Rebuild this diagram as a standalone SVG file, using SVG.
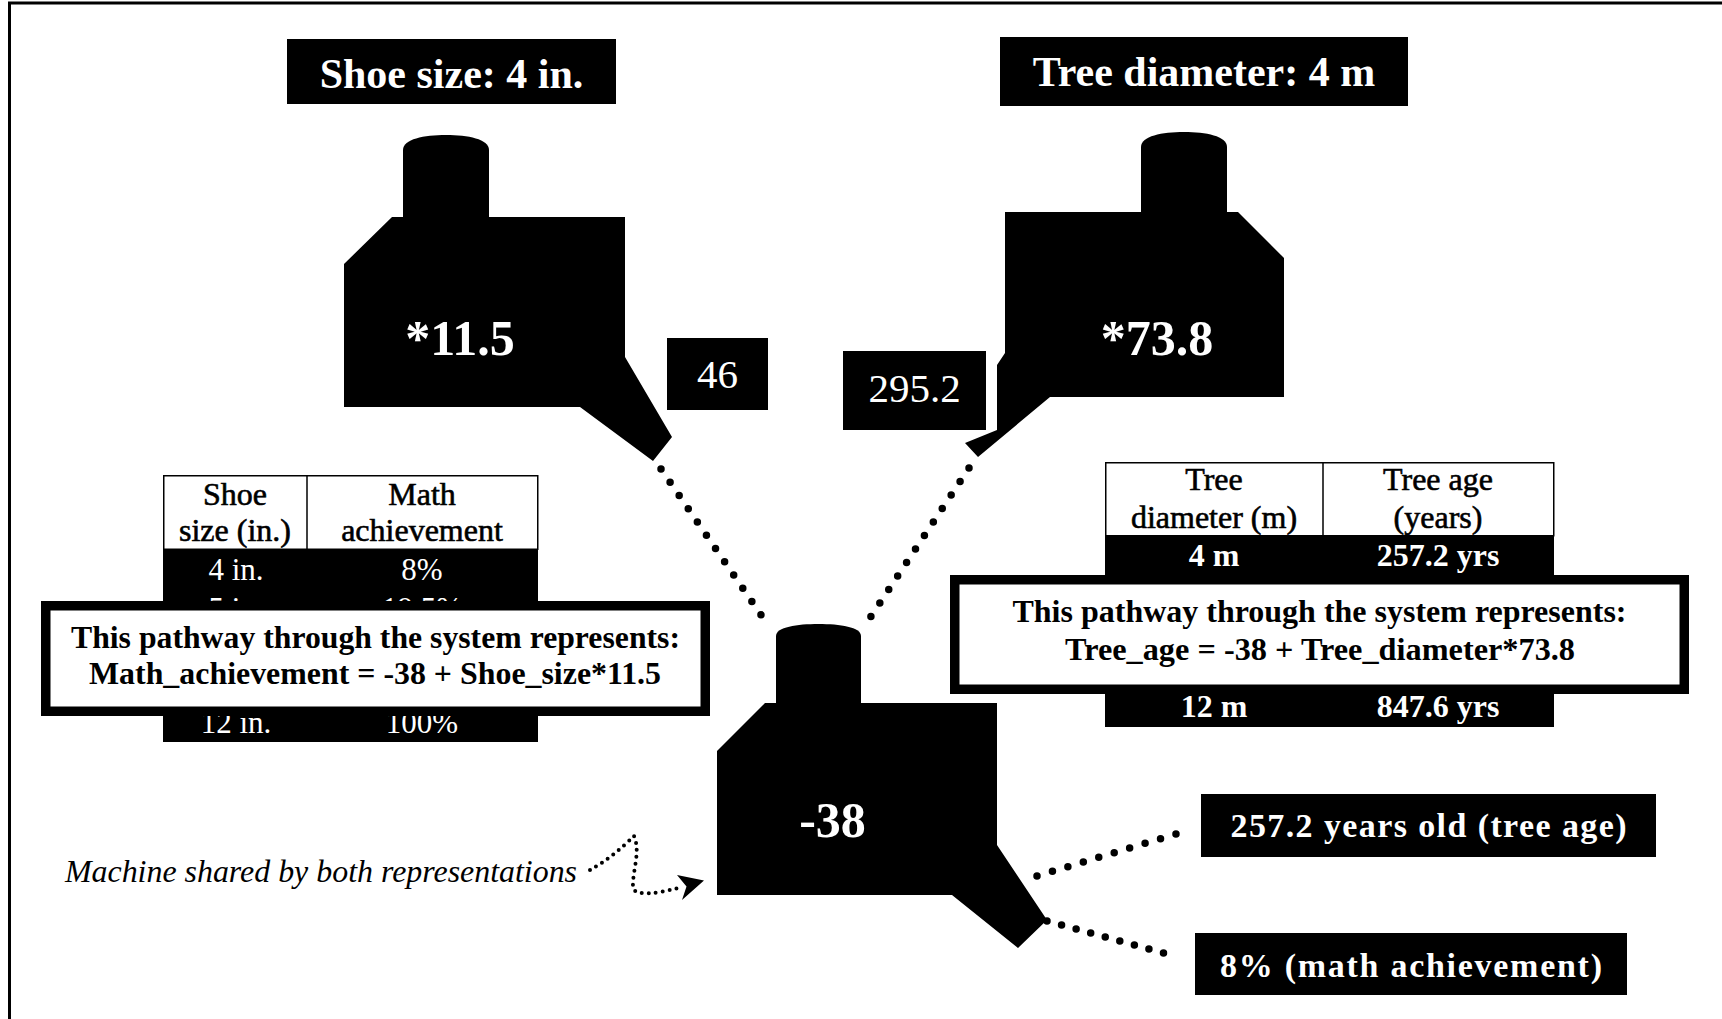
<svg xmlns="http://www.w3.org/2000/svg" width="1722" height="1019" viewBox="0 0 1722 1019">
  <style>
    text { font-family: "Liberation Serif", "Times New Roman", serif; }
    .blk { fill: #000; }
    .lbl { fill: #fff; font-weight: bold; font-size: 42px; text-anchor: middle; }
    .mach { fill: #fff; font-weight: bold; font-size: 50px; text-anchor: middle; }
    .val { fill: #fff; font-size: 41px; text-anchor: middle; }
    .hdr { fill: #000; stroke: #000; stroke-width: 0.6; font-size: 32px; text-anchor: middle; }
    .cell { fill: #fff; font-size: 31px; text-anchor: middle; }
    .cellb { fill: #fff; font-size: 32px; font-weight: bold; text-anchor: middle; }
    .thead { fill: #fff; stroke: #000; stroke-width: 1.5; }
    .rule { stroke: #000; stroke-width: 1.5; }
    .note { fill: #fff; stroke: #000; stroke-width: 9.5; }
    .notetext { fill: #000; font-weight: bold; font-size: 31.5px; text-anchor: middle; }
    .out { fill: #fff; font-weight: bold; font-size: 34px; text-anchor: middle; }
    .dots { fill: none; stroke: #000; stroke-width: 7.5; stroke-linecap: round; }
    .small { fill: none; stroke: #000; stroke-width: 4; stroke-linecap: round; stroke-dasharray: 0 7; }
    .caption { fill: #000; font-style: italic; font-size: 31px; }
    .frame { stroke: #000; stroke-width: 3; }
  </style>
  <defs>
    <!-- table rows that sit partly under the note boxes -->
    <clipPath id="above-note"><rect x="160" y="590" width="380" height="11"/></clipPath>
    <clipPath id="below-note"><rect x="160" y="712" width="380" height="30"/></clipPath>
  </defs>

  <rect x="0" y="0" width="1722" height="1019" fill="#fff"/>
  <g id="frame">
    <line class="frame" x1="8" y1="3" x2="1722" y2="3"/>
    <line class="frame" x1="9.5" y1="2" x2="9.5" y2="1019"/>
  </g>

  <!-- input labels -->
  <g id="input-shoe">
    <rect class="blk" x="287" y="39" width="329" height="65"/>
    <text class="lbl" x="451.5" y="88">Shoe size: 4 in.</text>
  </g>
  <g id="input-tree">
    <rect class="blk" x="1000" y="37" width="408" height="69"/>
    <text class="lbl" x="1204" y="86">Tree diameter: 4 m</text>
  </g>

  <!-- multiplier machines -->
  <g id="machine-shoe">
    <path class="blk" d="M403,218 V150 C403,139 424,135 446,135 C468,135 489,139 489,150 V218 Z"/>
    <path class="blk" d="M392,217 L625,217 L625,357 L662,420 L672,437 L653,461 L580,407 L344,407 L344,264 Z"/>
    <text class="mach" x="460" y="355">*11.5</text>
  </g>
  <g id="machine-tree">
    <path class="blk" d="M1141,213 V147 C1141,136 1162,132 1184,132 C1206,132 1227,136 1227,147 V213 Z"/>
    <path class="blk" d="M1005,212 L1238,212 L1284,258 L1284,397 L1050,397 L978,457 L965,443 L997,430 L997,365 L1005,353 Z"/>
    <text class="mach" x="1157" y="355">*73.8</text>
  </g>

  <!-- intermediate values -->
  <g id="value-46">
    <rect class="blk" x="667" y="338" width="101" height="72"/>
    <text class="val" x="717.5" y="388">46</text>
  </g>
  <g id="value-295">
    <rect class="blk" x="843" y="351" width="143" height="79"/>
    <text class="val" x="914.5" y="402">295.2</text>
  </g>

  <!-- shared adding machine -->
  <g id="machine-shared">
    <path class="blk" d="M776,704 V636 C776,627 797,624 818.5,624 C840,624 861,627 861,636 V704 Z"/>
    <path class="blk" d="M765,703 L997,703 L997,845 L1047,920 L1018,948 L952,895 L717,895 L717,751 Z"/>
    <text class="mach" x="832.5" y="837">-38</text>
  </g>

  <!-- shoe size table -->
  <g id="table-shoe">
    <rect class="thead" x="163.75" y="475.75" width="374" height="73.5"/>
    <line class="rule" x1="307" y1="475" x2="307" y2="549"/>
    <rect class="blk" x="163" y="549" width="375" height="193"/>
    <text class="hdr" x="235" y="505">Shoe</text>
    <text class="hdr" x="235" y="541">size (in.)</text>
    <text class="hdr" x="422" y="505">Math</text>
    <text class="hdr" x="422" y="541">achievement</text>
    <text class="cell" x="236" y="580">4 in.</text>
    <text class="cell" x="422" y="580">8%</text>
    <g clip-path="url(#above-note)">
      <text class="cell" x="236" y="619">5 in.</text>
      <text class="cell" x="422" y="619">19.5%</text>
    </g>
    <g clip-path="url(#below-note)">
      <text class="cell" x="236" y="733">12 in.</text>
      <text class="cell" x="422" y="733">100%</text>
    </g>
  </g>

  <!-- tree table -->
  <g id="table-tree">
    <rect class="thead" x="1105.75" y="462.75" width="448" height="73"/>
    <line class="rule" x1="1323" y1="462" x2="1323" y2="536"/>
    <rect class="blk" x="1105" y="536" width="449" height="191"/>
    <text class="hdr" x="1214" y="490">Tree</text>
    <text class="hdr" x="1214" y="528">diameter (m)</text>
    <text class="hdr" x="1438" y="490">Tree age</text>
    <text class="hdr" x="1438" y="528">(years)</text>
    <text class="cellb" x="1214" y="566">4 m</text>
    <text class="cellb" x="1438" y="566">257.2 yrs</text>
    <text class="cellb" x="1214" y="717">12 m</text>
    <text class="cellb" x="1438" y="717">847.6 yrs</text>
  </g>

  <!-- pathway notes -->
  <g id="note-shoe">
    <rect class="note" x="45.75" y="605.75" width="659.5" height="105.5"/>
    <text class="notetext" x="375.5" y="648" textLength="609" lengthAdjust="spacingAndGlyphs">This pathway through the system represents:</text>
    <text class="notetext" x="375" y="684" textLength="572" lengthAdjust="spacingAndGlyphs">Math_achievement = -38 + Shoe_size*11.5</text>
  </g>
  <g id="note-tree">
    <rect class="note" x="954.75" y="579.75" width="729.5" height="109.5"/>
    <text class="notetext" x="1319.5" y="622" textLength="614" lengthAdjust="spacingAndGlyphs">This pathway through the system represents:</text>
    <text class="notetext" x="1320" y="660" textLength="510" lengthAdjust="spacingAndGlyphs">Tree_age = -38 + Tree_diameter*73.8</text>
  </g>

  <!-- outputs -->
  <g id="output-tree">
    <rect class="blk" x="1201" y="794" width="455" height="63"/>
    <text class="out" x="1428.5" y="837" textLength="396" lengthAdjust="spacing">257.2 years old (tree age)</text>
  </g>
  <g id="output-shoe">
    <rect class="blk" x="1195" y="933" width="432" height="62"/>
    <text class="out" x="1411" y="977" textLength="382" lengthAdjust="spacing">8% (math achievement)</text>
  </g>

  <g id="caption">
    <text class="caption" x="65" y="882" textLength="512" lengthAdjust="spacingAndGlyphs">Machine shared by both representations</text>
  </g>

  <!-- dotted connectors -->
  <g id="connectors">
    <line class="dots" x1="661" y1="469" x2="770" y2="628" stroke-dasharray="0 16.07"/>
    <line class="dots" x1="969" y1="468" x2="862" y2="630" stroke-dasharray="0 16.18"/>
    <line class="dots" x1="1037" y1="876" x2="1176" y2="834" stroke-dasharray="0 16.13"/>
    <line class="dots" x1="1047" y1="921" x2="1178" y2="957" stroke-dasharray="0 15.1"/>
    <path class="small" d="M590,870 C605,862 622,848 634,836 C641,852 632,872 633,888 C636,897 660,893 678,888"/>
    <polygon class="blk" points="677,875 704,880.5 682,900 686.5,886.5"/>
  </g>
</svg>
